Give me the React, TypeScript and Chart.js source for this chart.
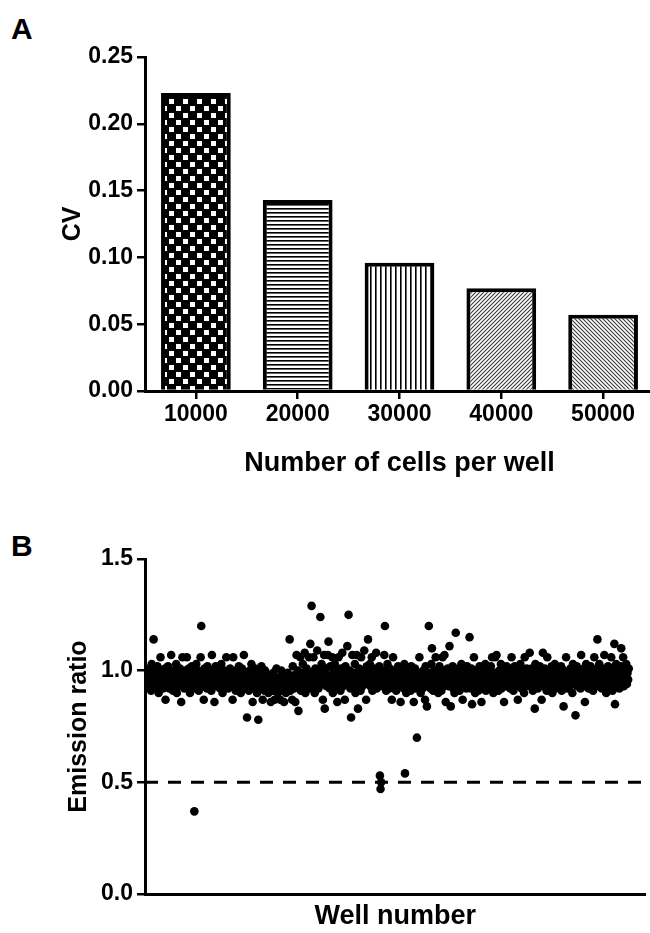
import React, { useEffect, useRef } from "react";
import { Chart, registerables } from "chart.js";

Chart.register(...registerables);

const FONT = "'Liberation Sans', Arial, Helvetica, sans-serif";

// Panel A data
const CELL_COUNTS = ["10000", "20000", "30000", "40000", "50000"];
const CV_VALUES = [0.223, 0.143, 0.096, 0.077, 0.057];
const BAR_PATTERNS = ["checker", "hlines", "vlines", "diagUp", "diagDown"];

// Panel B data: emission ratio per well, in well order (wells 1-384, then 385-768)
const WELLS_PLATE_1 = [
  0.97, 0.93, 1.01, 0.95, 0.99, 0.91, 1.03, 0.96, 0.94, 1.14, 0.98, 0.92, 1.00, 0.95, 0.97, 1.02,
  0.94, 0.90, 0.99, 0.96, 1.06, 0.93, 0.97, 1.00, 0.92, 0.95, 0.98, 1.01, 0.87, 0.96, 0.94, 0.99,
  1.02, 0.95, 0.92, 0.98, 0.96, 1.07, 0.93, 0.99, 0.91, 0.97, 1.00, 0.94, 0.96, 1.03, 0.90, 0.98,
  0.95, 0.99, 0.93, 1.01, 0.96, 0.86, 0.97, 1.06, 0.94, 0.99, 0.92, 0.96, 1.00, 0.95, 1.06, 0.93,
  0.97, 1.01, 0.94, 0.90, 0.98, 0.96, 1.02, 0.93, 0.99, 0.95, 0.37, 0.97, 0.92, 1.03, 0.96, 0.94,
  1.00, 0.91, 0.97, 0.95, 1.06, 1.20, 0.93, 0.98, 0.96, 0.87, 1.01, 0.94, 0.99, 0.97, 0.92, 1.02,
  0.95, 0.98, 0.93, 1.00, 0.96, 0.91, 1.07, 0.94, 0.97, 0.99, 0.86, 0.95, 1.02, 0.93, 0.97, 0.96,
  0.99, 0.94, 1.01, 0.92, 0.96, 1.03, 0.95, 0.90, 0.98, 0.97, 1.00, 0.93, 0.96, 1.06, 0.94, 0.98,
  0.92, 0.97, 0.95, 1.01, 0.93, 0.99, 0.96, 0.87, 1.06, 0.94, 0.98, 0.95, 0.91, 1.00, 0.97, 0.93,
  0.96, 1.02, 0.94, 0.98, 0.90, 0.95, 1.01, 0.97, 0.93, 1.07, 0.96, 0.92, 0.99, 0.94, 0.79, 0.98,
  0.95, 0.91, 1.00, 0.96, 0.93, 1.03, 0.97, 0.86, 0.94, 0.99, 0.92, 1.01, 0.95, 0.97, 0.90, 0.96,
  0.78, 0.94, 0.99, 0.92, 0.96, 1.02, 0.93, 0.87, 0.97, 0.95, 0.91, 1.00, 0.94, 0.98, 0.92, 0.96,
  0.90, 0.95, 0.93, 0.98, 0.86, 0.94, 0.97, 0.91, 0.99, 0.93, 0.87, 0.96, 0.92, 1.01, 0.94, 0.90,
  0.95, 0.92, 0.97, 0.87, 0.94, 1.00, 0.91, 0.96, 0.93, 0.86, 0.98, 0.94, 0.90, 0.96, 0.92, 0.99,
  0.93, 0.96, 1.14, 0.91, 0.97, 0.94, 0.87, 1.02, 0.95, 0.92, 0.98, 0.86, 0.96, 1.07, 0.93, 1.00,
  0.82, 0.97, 0.94, 1.06, 0.91, 0.99, 0.95, 1.03, 0.93, 0.97, 1.08, 0.90, 0.96, 1.01, 0.94, 0.98,
  0.95, 1.06, 0.92, 1.12, 0.97, 1.29, 0.99, 0.93, 1.06, 0.96, 0.90, 1.01, 0.94, 0.98, 1.09, 0.95,
  0.92, 1.00, 0.97, 1.24, 0.94, 1.03, 0.96, 0.87, 0.99, 1.07, 0.83, 0.95, 1.01, 0.93, 0.98, 1.07,
  1.13, 0.96, 0.92, 1.02, 0.97, 0.94, 1.06, 0.90, 0.99, 0.95, 1.03, 0.93, 0.97, 1.00, 0.86, 0.96,
  1.06, 0.94, 0.98, 0.91, 1.01, 0.96, 1.08, 0.93, 0.99, 0.95, 0.87, 1.02, 0.97, 0.94, 1.11, 0.98,
  1.25, 0.95, 1.00, 0.92, 0.79, 0.97, 1.07, 0.94, 0.99, 0.96, 1.03, 0.90, 0.97, 1.07, 0.93, 0.83,
  0.98, 1.01, 0.95, 0.91, 1.06, 0.97, 0.93, 1.00, 0.96, 1.09, 0.94, 0.99, 0.87, 1.02, 0.96, 1.14,
  0.95, 0.99, 1.03, 0.93, 0.97, 1.06, 0.91, 0.98, 0.95, 1.01, 0.94, 0.97, 1.08, 0.92, 0.99, 0.96,
  0.94, 1.02, 0.53, 0.47, 0.50, 0.97, 0.93, 1.00, 0.96, 1.07, 1.20, 0.95, 0.91, 0.98, 1.03, 0.94,
];
const WELLS_PLATE_2 = [
  0.97, 0.92, 1.01, 0.95, 0.99, 0.87, 0.96, 1.06, 0.93, 0.98, 0.95, 1.00, 0.91, 0.97, 0.94, 1.02,
  0.96, 0.93, 0.99, 0.86, 0.95, 1.01, 0.94, 0.97, 0.92, 1.03, 0.54, 0.96, 0.90, 0.98, 0.95, 0.93,
  1.00, 0.94, 0.97, 0.91, 1.02, 0.96, 0.93, 0.99, 0.86, 0.95, 1.01, 0.92, 0.97, 0.70, 0.94, 0.98,
  0.93, 1.06, 0.96, 0.90, 0.99, 0.95, 0.92, 1.00, 0.97, 0.94, 0.87, 1.02, 0.96, 0.84, 0.93, 0.99,
  1.20, 0.95, 0.98, 0.92, 1.03, 1.10, 0.96, 0.91, 1.00, 0.94, 0.97, 1.06, 0.93, 0.99, 0.95, 0.90,
  0.97, 1.02, 0.94, 0.98, 0.91, 0.96, 1.06, 0.93, 1.00, 1.07, 0.95, 0.86, 0.98, 0.94, 1.01, 0.96,
  0.93, 1.11, 0.97, 0.84, 0.99, 0.95, 1.02, 0.92, 0.96, 0.90, 1.00, 1.17, 0.94, 0.98, 0.93, 1.01,
  0.96, 0.91, 0.99, 0.94, 1.03, 0.97, 0.87, 0.95, 1.00, 0.93, 0.98, 0.96, 0.92, 1.02, 0.94, 0.97,
  0.99, 1.15, 0.95, 0.92, 1.01, 0.85, 0.97, 0.94, 1.06, 0.96, 0.90, 0.98, 0.93, 1.00, 0.95, 0.91,
  0.97, 1.02, 0.94, 0.98, 0.86, 0.96, 1.01, 0.93, 0.99, 0.95, 1.03, 0.91, 0.97, 0.94, 1.00, 0.96,
  0.92, 0.98, 0.95, 1.02, 0.94, 1.06, 0.97, 0.90, 0.99, 0.96, 1.06, 0.93, 1.07, 0.98, 0.95, 0.91,
  1.00, 0.94, 0.97, 1.03, 0.92, 0.99, 0.95, 1.01, 0.86, 0.96, 0.98, 0.93, 1.02, 0.97, 0.94, 0.99,
  0.95, 1.01, 0.92, 0.97, 1.06, 0.94, 0.99, 0.91, 0.96, 1.02, 0.93, 0.98, 0.95, 1.00, 0.87, 0.97,
  0.94, 0.99, 1.03, 0.96, 0.92, 1.00, 0.95, 0.98, 0.90, 1.06, 0.97, 0.93, 1.01, 0.96, 0.94, 0.99,
  0.96, 1.08, 0.93, 0.98, 1.01, 0.95, 0.91, 0.99, 0.97, 0.83, 1.03, 0.94, 0.96, 1.00, 0.92, 0.98,
  0.95, 1.02, 0.94, 0.97, 0.87, 0.99, 1.08, 0.96, 0.93, 1.01, 0.95, 0.98, 0.91, 1.06, 0.97, 0.94,
  1.00, 0.93, 0.97, 0.95, 1.02, 0.90, 0.98, 0.96, 0.94, 1.03, 0.92, 0.99, 0.95, 0.97, 1.01, 0.93,
  0.96, 0.99, 0.94, 1.02, 0.91, 0.97, 0.95, 0.84, 1.00, 0.93, 0.98, 1.06, 0.96, 0.92, 0.99, 0.95,
  0.97, 0.93, 1.01, 0.95, 0.98, 0.90, 1.03, 0.96, 0.94, 0.99, 0.80, 0.97, 1.02, 0.93, 0.96, 1.00,
  0.94, 0.98, 0.92, 1.07, 0.96, 0.99, 0.93, 1.01, 0.95, 0.86, 0.97, 1.03, 0.94, 1.00, 0.96, 0.92,
  0.99, 0.95, 1.02, 0.93, 0.97, 1.00, 0.91, 0.96, 1.06, 0.94, 0.98, 0.95, 1.01, 1.14, 0.97, 0.93,
  1.03, 0.96, 0.94, 0.99, 0.92, 1.01, 0.97, 0.95, 1.07, 0.93, 0.98, 0.90, 1.00, 0.96, 1.02, 0.94,
  0.97, 0.99, 0.93, 1.06, 0.96, 0.91, 1.01, 0.95, 1.12, 0.85, 0.98, 1.03, 0.94, 0.97, 1.00, 0.96,
  0.92, 0.99, 1.02, 1.10, 0.95, 0.97, 1.06, 0.93, 1.00, 0.96, 0.98, 1.03, 0.94, 0.99, 0.96, 1.01,
];
const WELL_RATIOS = [...WELLS_PLATE_1, ...WELLS_PLATE_2];
const THRESHOLD = 0.5;
const WELL_AXIS_MIN = -3.75;
const WELL_AXIS_MAX = 795;

function makePattern(kind: string): CanvasPattern | string {
  const c = document.createElement("canvas");
  const g = c.getContext("2d");
  if (!g) return "#888";
  if (kind === "checker") {
    c.width = 14; c.height = 14;
    g.fillStyle = "#000"; g.fillRect(0, 0, 14, 14);
    g.fillStyle = "#fff"; g.fillRect(1, 1, 5, 5); g.fillRect(8, 8, 5, 5);
  } else if (kind === "hlines") {
    c.width = 4; c.height = 4;
    g.fillStyle = "#fff"; g.fillRect(0, 0, 4, 4);
    g.fillStyle = "#000"; g.fillRect(0, 0, 4, 1.6);
  } else if (kind === "vlines") {
    c.width = 5; c.height = 5;
    g.fillStyle = "#fff"; g.fillRect(0, 0, 5, 5);
    g.fillStyle = "#000"; g.fillRect(0, 0, 1.6, 5);
  } else {
    c.width = 4; c.height = 4;
    g.fillStyle = "#fff"; g.fillRect(0, 0, 4, 4);
    g.strokeStyle = "#3a3a3a"; g.lineWidth = 1.1;
    g.beginPath();
    if (kind === "diagUp") {
      g.moveTo(0, 4); g.lineTo(4, 0);
      g.moveTo(-1, 1); g.lineTo(1, -1);
      g.moveTo(3, 5); g.lineTo(5, 3);
    } else {
      g.moveTo(0, 0); g.lineTo(4, 4);
      g.moveTo(-1, 3); g.lineTo(1, 5);
      g.moveTo(3, -1); g.lineTo(5, 1);
    }
    g.stroke();
  }
  const p = g.createPattern(c, "repeat");
  return p || "#888";
}

const tickFont = { family: FONT, size: 23, weight: "bold" as const };
const hTitleFont = { family: FONT, size: 27, weight: "bold" as const };
const vTitleFont = { family: FONT, size: 25, weight: "bold" as const };

export default function App() {
  const refA = useRef<HTMLCanvasElement | null>(null);
  const refB = useRef<HTMLCanvasElement | null>(null);

  useEffect(() => {
    if (!refA.current || !refB.current) return;
    const chartA = new Chart(refA.current, {
      type: "bar",
      data: {
        labels: CELL_COUNTS,
        datasets: [
          {
            data: CV_VALUES,
            backgroundColor: BAR_PATTERNS.map(makePattern) as any,
            borderColor: "#000",
            borderWidth: 4,
            borderSkipped: "start",
            categoryPercentage: 1,
            barPercentage: 0.685,
          },
        ],
      },
      options: {
        responsive: false,
        animation: false,
        devicePixelRatio: 1,
        layout: { padding: { top: 57, left: 0, right: 0, bottom: 0 } },
        plugins: { legend: { display: false }, tooltip: { enabled: false } },
        scales: {
          x: {
            grid: { display: true, drawOnChartArea: false, offset: false, tickLength: 8, color: "#000", lineWidth: 2.5 },
            border: { display: true, color: "#000", width: 3 },
            ticks: { color: "#000", font: tickFont, padding: 2 },
            title: { display: true, text: "Number of cells per well", color: "#000", font: hTitleFont, padding: { top: 0, bottom: 10 } },
            afterFit: (s: any) => { s.height = 99; },
          },
          y: {
            min: 0,
            max: 0.25,
            grid: { drawOnChartArea: false, tickLength: 8, color: "#000", lineWidth: 2.5 },
            border: { display: true, color: "#000", width: 3 },
            ticks: { stepSize: 0.05, color: "#000", font: tickFont, padding: 4, callback: (v: any) => Number(v).toFixed(2) },
            title: { display: true, text: "CV", color: "#000", font: vTitleFont, padding: { top: 58, bottom: 0 } },
            afterFit: (s: any) => { s.width = 145; },
          },
        },
      },
    });

    const chartB = new Chart(refB.current, {
      type: "scatter",
      data: {
        datasets: [
          {
            type: "line",
            data: [
              { x: WELL_AXIS_MIN, y: THRESHOLD },
              { x: WELL_AXIS_MAX, y: THRESHOLD },
            ],
            borderColor: "#000",
            borderWidth: 3,
            borderDash: [13, 10],
            pointRadius: 0,
            fill: false,
          } as any,
          {
            data: WELL_RATIOS.map((v, i) => ({ x: i + 1, y: v })),
            backgroundColor: "#000",
            borderWidth: 0,
            pointRadius: 4.3,
          },
        ],
      },
      options: {
        responsive: false,
        animation: false,
        devicePixelRatio: 1,
        layout: { padding: { top: 69, left: 0, right: 0, bottom: 0 } },
        plugins: { legend: { display: false }, tooltip: { enabled: false } },
        scales: {
          x: {
            type: "linear",
            min: WELL_AXIS_MIN,
            max: WELL_AXIS_MAX,
            grid: { display: false },
            border: { display: true, color: "#000", width: 3 },
            ticks: { display: false },
            title: { display: true, text: "Well number", color: "#000", font: hTitleFont, padding: { top: 0, bottom: 0 } },
            afterFit: (s: any) => { s.height = 39; },
          },
          y: {
            min: 0,
            max: 1.5,
            grid: { drawOnChartArea: false, tickLength: 8, color: "#000", lineWidth: 2.5 },
            border: { display: true, color: "#000", width: 3 },
            ticks: { stepSize: 0.5, color: "#000", font: tickFont, padding: 4, callback: (v: any) => Number(v).toFixed(1) },
            title: { display: true, text: "Emission ratio", color: "#000", font: vTitleFont, padding: { top: 64, bottom: 0 } },
            afterFit: (s: any) => { s.width = 145; },
          },
        },
      },
    });

    return () => {
      chartA.destroy();
      chartB.destroy();
    };
  }, []);

  const panelLabel: React.CSSProperties = {
    position: "absolute",
    left: 11,
    fontFamily: FONT,
    fontWeight: "bold",
    fontSize: 30,
    lineHeight: "30px",
    color: "#000",
  };

  return (
    <div style={{ position: "absolute", left: 0, top: 0, width: 650, height: 933, background: "#fff", overflow: "hidden" }}>
      <div style={{ ...panelLabel, top: 14 }}>A</div>
      <div style={{ ...panelLabel, top: 531 }}>B</div>
      <canvas ref={refA} width={654} height={490} style={{ position: "absolute", left: 0, top: 0, width: 654, height: 490, display: "block" }} />
      <canvas ref={refB} width={650} height={443} style={{ position: "absolute", left: 0, top: 490, width: 650, height: 443, display: "block" }} />
    </div>
  );
}
